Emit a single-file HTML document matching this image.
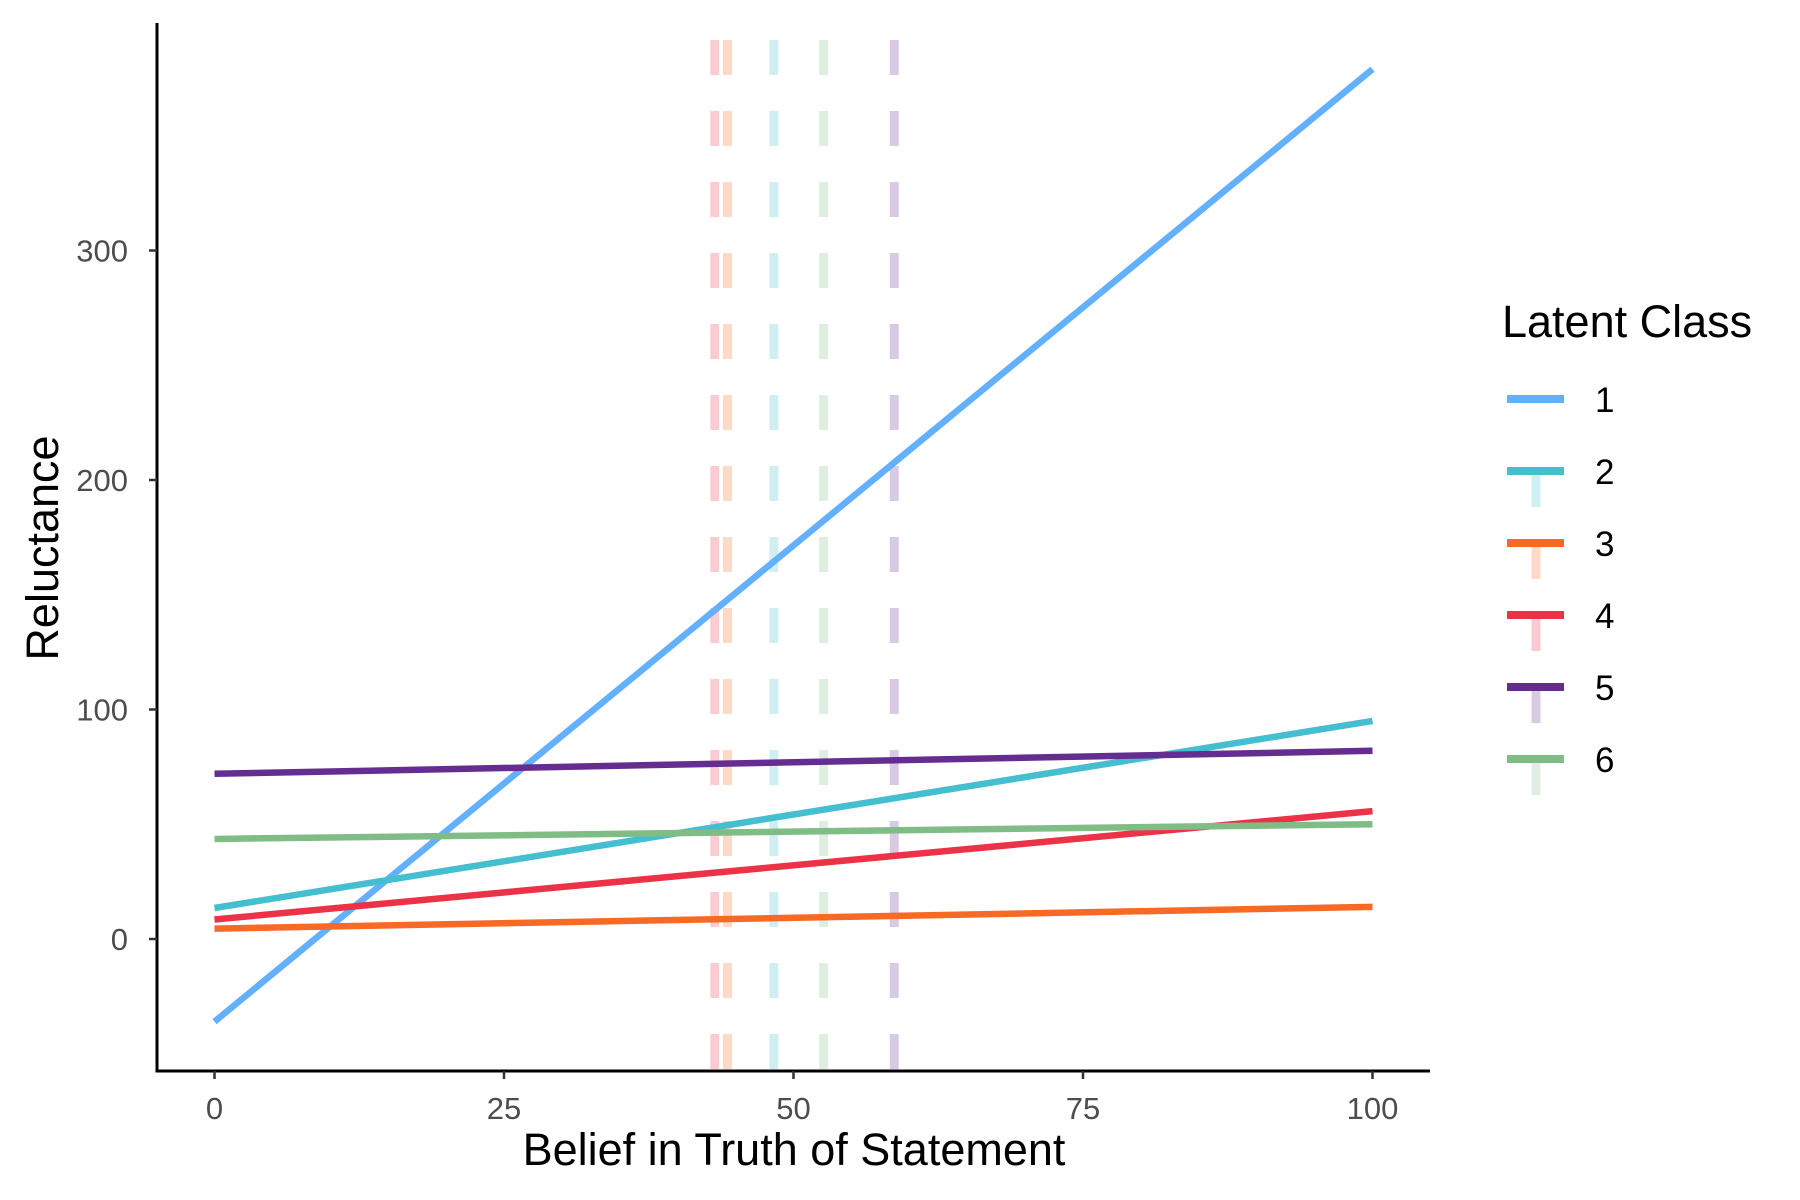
<!DOCTYPE html>
<html><head><meta charset="utf-8"><style>
html,body{margin:0;padding:0;background:#fff;}
svg{display:block;font-family:"Liberation Sans",Arial,sans-serif;}
</style></head><body>
<svg id="chart" width="1800" height="1200" viewBox="0 0 1800 1200">
<g id="vlines"></g>
<g id="lines"></g>
<g id="axes"></g>
<g id="legend"></g>
</svg>
<script>
const classes = ["1","2","3","4","5","6"];
const colors = ["#63b0fe","#45bfcf","#f66a25","#ec3246","#662d91","#7fbc86"];
const startValues = [-36, 13.5, 4.5, 8.5, 72, 43.6];
const endValues = [379, 95, 14, 55.7, 82, 50];
const meanClasses = ["4","3","2","6","5"];
const meanX = [43.2, 44.3, 48.3, 52.6, 58.7];
const xTicks = [0,25,50,75,100];
const yTicks = [0,100,200,300];

const NS="http://www.w3.org/2000/svg";
function X(v){return 214.5 + v*11.58;}
function Y(v){return 939 - v*2.295;}
function mk(tag, attrs, parent){const e=document.createElementNS(NS,tag);for(const k in attrs)e.setAttribute(k,attrs[k]);parent.appendChild(e);return e;}
const vl=document.getElementById('vlines'), ln=document.getElementById('lines'), ax=document.getElementById('axes'), lg=document.getElementById('legend');

meanX.forEach((m,i)=>{
  const c=colors[classes.indexOf(meanClasses[i])];
  const e=mk('line',{x1:X(m),x2:X(m),y1:40,y2:1071,stroke:c,'stroke-opacity':0.25,'stroke-width':9,'stroke-dasharray':'35 36'},vl);
  
  
});
classes.forEach((c,i)=>{
  const e=mk('line',{x1:X(0),y1:Y(startValues[i]),x2:X(100),y2:Y(endValues[i]),stroke:colors[i],'stroke-width':6.5},ln);
  
  
});

mk('line',{x1:157,x2:157,y1:23,y2:1072.5,stroke:'#000','stroke-width':3},ax);
mk('line',{x1:155.5,x2:1430,y1:1071,y2:1071,stroke:'#000','stroke-width':3},ax);
xTicks.forEach(t=>{
  mk('line',{x1:X(t),x2:X(t),y1:1071,y2:1079,stroke:'#333','stroke-width':2.5},ax);
  const e=mk('text',{x:X(t),y:1119,'text-anchor':'middle','font-size':31,fill:'#4d4d4d'},ax);
  e.textContent=t;
  
  
});
yTicks.forEach(t=>{
  mk('line',{x1:149,x2:157,y1:Y(t),y2:Y(t),stroke:'#333','stroke-width':2.5},ax);
  const e=mk('text',{x:128,y:Y(t)+11,'text-anchor':'end','font-size':31,fill:'#4d4d4d'},ax);
  e.textContent=t;
  
  
});
let xt=mk('text',{x:794,y:1165,'text-anchor':'middle','font-size':45,fill:'#000'},ax);
xt.textContent='Belief in Truth of Statement';


let yt=mk('text',{x:0,y:0,'text-anchor':'middle','font-size':45,fill:'#000',transform:'translate(58,548) rotate(-90)'},ax);
yt.textContent='Reluctance';



let lt=mk('text',{x:1502,y:337,'font-size':45,fill:'#000'},lg);
lt.textContent='Latent Class';


classes.forEach((c,i)=>{
  const cy=399+i*72;
  const g=mk('g',{},lg);
  
  
  if(i>0) mk('line',{x1:1536,x2:1536,y1:cy,y2:cy+36,stroke:colors[i],'stroke-opacity':0.25,'stroke-width':9},g);
  mk('line',{x1:1507,x2:1564,y1:cy,y2:cy,stroke:colors[i],'stroke-width':8},g);
  const t=mk('text',{x:1595,y:cy+13,'font-size':35,fill:'#000'},g);
  t.textContent=c;
});
</script>
</body></html>
